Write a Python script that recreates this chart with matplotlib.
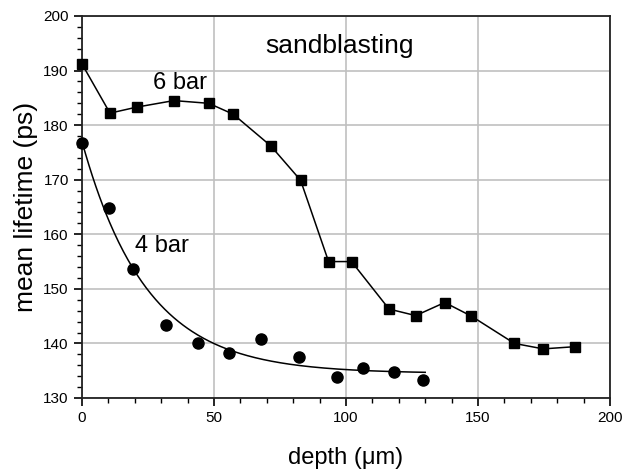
"""Mean positron lifetime vs depth after sandblasting at 4 and 6 bar."""

import numpy as np
import matplotlib
matplotlib.use("Agg")
import matplotlib.pyplot as plt
from matplotlib.ticker import MultipleLocator

plt.rcParams["font.family"] = ["Liberation Sans", "DejaVu Sans"]

# 6 bar series (connected by straight segments)
depth_6bar = [0, 10.6, 20.7, 34.8, 48.0, 57.3, 71.5, 82.8, 93.4, 102.1,
              116.3, 126.4, 137.4, 147.5, 163.8, 174.7, 186.6]
tau_6bar = [191.2, 182.2, 183.3, 184.5, 184.0, 182.0, 176.2, 169.9, 155.0, 155.0,
            146.3, 145.1, 147.5, 145.0, 140.0, 139.0, 139.4]

# 4 bar series (points plus an exponential fit curve)
depth_4bar = [0, 10.1, 19.4, 31.8, 44.1, 55.8, 67.9, 82.1, 96.5, 106.6, 118.3, 129.3]
tau_4bar = [176.8, 164.9, 153.6, 143.3, 140.1, 138.3, 140.8, 137.6, 133.9, 135.5,
            134.8, 133.3]

# fit: tau = FIT_Y0 + FIT_A * exp(-depth / FIT_T)
FIT_Y0 = 134.5
FIT_A = 42.5
FIT_T = 24.4
FIT_XMAX = 130

XERR = 1.0
YERR = 0.6


def main() -> None:
    fig = plt.figure(figsize=(6.26, 4.73), dpi=100)
    ax = fig.add_axes([82 / 626, 75 / 473, 528 / 626, 382 / 473])

    ax.set_xlim(0, 200)
    ax.set_ylim(130, 200)

    ax.grid(True, which="major", color="#c0c0c0", linewidth=1.2, zorder=0)
    ax.set_axisbelow(True)

    # 6 bar
    ax.plot(depth_6bar, tau_6bar, color="black", linewidth=1.1, zorder=2)
    ax.errorbar(depth_6bar, tau_6bar, xerr=XERR, yerr=YERR, fmt="s",
                color="black", markersize=7.5, ecolor="black", elinewidth=1,
                capsize=2, zorder=3, clip_on=False)

    # 4 bar
    xfit = np.linspace(0, FIT_XMAX, 300)
    yfit = FIT_Y0 + FIT_A * np.exp(-xfit / FIT_T)
    ax.plot(xfit, yfit, color="black", linewidth=1.1, zorder=2)
    ax.errorbar(depth_4bar, tau_4bar, xerr=XERR, yerr=YERR, fmt="o",
                color="black", markersize=8, ecolor="black", elinewidth=1,
                capsize=2, zorder=3, clip_on=False)

    ax.text(97.7, 194.5, "sandblasting", fontsize=19, ha="center", va="center")
    ax.text(37, 187.8, "6 bar", fontsize=17, ha="center", va="center")
    ax.text(30.3, 157.8, "4 bar", fontsize=17, ha="center", va="center")

    ax.xaxis.set_major_locator(MultipleLocator(50))
    ax.xaxis.set_minor_locator(MultipleLocator(10))
    ax.yaxis.set_major_locator(MultipleLocator(10))
    ax.yaxis.set_minor_locator(MultipleLocator(2))
    ax.tick_params(which="major", direction="out", length=6, width=1.2,
                   labelsize=11, colors="black")
    ax.tick_params(which="minor", direction="out", length=3.5, width=1)

    for s in ax.spines.values():
        s.set_linewidth(1.3)
        s.set_color("#222222")

    ax.set_xlabel("depth (\u03bcm)", fontsize=17, labelpad=16)
    ax.set_ylabel("mean lifetime (ps)", fontsize=19, labelpad=4)

    fig.savefig("out.png", dpi=100)
    plt.close(fig)


if __name__ == "__main__":
    main()
